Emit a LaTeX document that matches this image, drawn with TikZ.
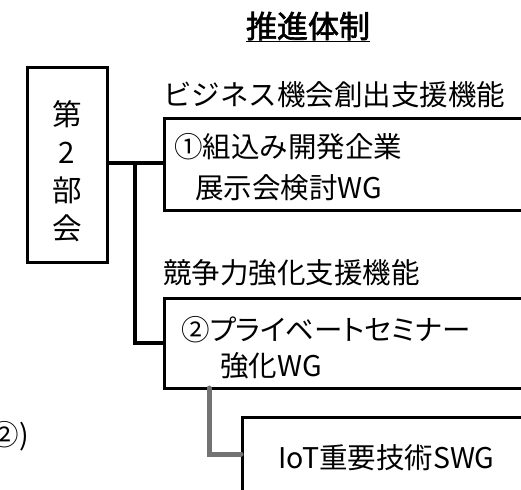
\documentclass[tikz,border=0pt]{standalone}
\usepackage{fontspec}
\newfontfamily\jp[AutoFakeBold=2]{Noto Sans CJK JP}
\newfontfamily\jpp[RawFeature=+palt]{Noto Sans CJK JP}
\begin{document}
\begin{tikzpicture}[x=1pt,y=-1pt,
  box/.style={draw=black,line width=3pt,rectangle,inner sep=0pt},
  lbl/.style={font=\jp\fontsize{28.5}{30}\selectfont,inner sep=0pt,anchor=west},
  conn/.style={line width=4pt,black},
  gconn/.style={line width=5pt,color=gray!110!white,line cap=round}]
\useasboundingbox (0,0) rectangle (521,489);
\clip (0,0) rectangle (521,489);
\fill[white] (0,0) rectangle (521,489);
% title
\node[font=\jp\bfseries\fontsize{31}{32}\selectfont,inner sep=0pt] (title) at (308,27) {\underline{推進体制}};
% boxes
\node[box,minimum width=80pt,minimum height=194pt] (b0) at (67,165) {};
\node[font=\jp\fontsize{29.5}{38}\selectfont,align=center,inner sep=0pt] (b0t) at (67,171) {第\\2\\部\\会};
\node[box,anchor=north west,minimum width=380pt,minimum height=92pt] (b1) at (163,117) {};
\node[box,anchor=north west,minimum width=380pt,minimum height=90pt] (b2) at (163,297) {};
\node[box,anchor=north west,minimum width=300pt,minimum height=100pt] (b3) at (241,416) {};
% labels
\node[lbl] (l1) at (163,95) {ビジネス機会創出支援機能};
\node[lbl] (l2) at (163,273) {競争力強化支援機能};
\node[lbl] (t1a) at (174,147) {①組込み開発企業};
\node[lbl] (t1b) at (195,188) {展示会検討WG};
\node[lbl] (t2a) at (181,330) {②{\jpp プライベートセミナー}};
\node[lbl] (t2b) at (220,366) {強化WG};
\node[lbl] (t3) at (278,458) {IoT重要技術SWG};
\node[lbl,anchor=east] (side) at (29,436) {②)};
% connectors
\coordinate (j) at (135,163);
\draw[conn] (b0.east |- j) -- (b1.west |- j);
\draw[conn] (j) -- (135,343) -- (b2.west |- 0,343);
\draw[gconn] (209,388) -- (209,454) -- (b3.west |- 0,454);
\end{tikzpicture}
\end{document}
